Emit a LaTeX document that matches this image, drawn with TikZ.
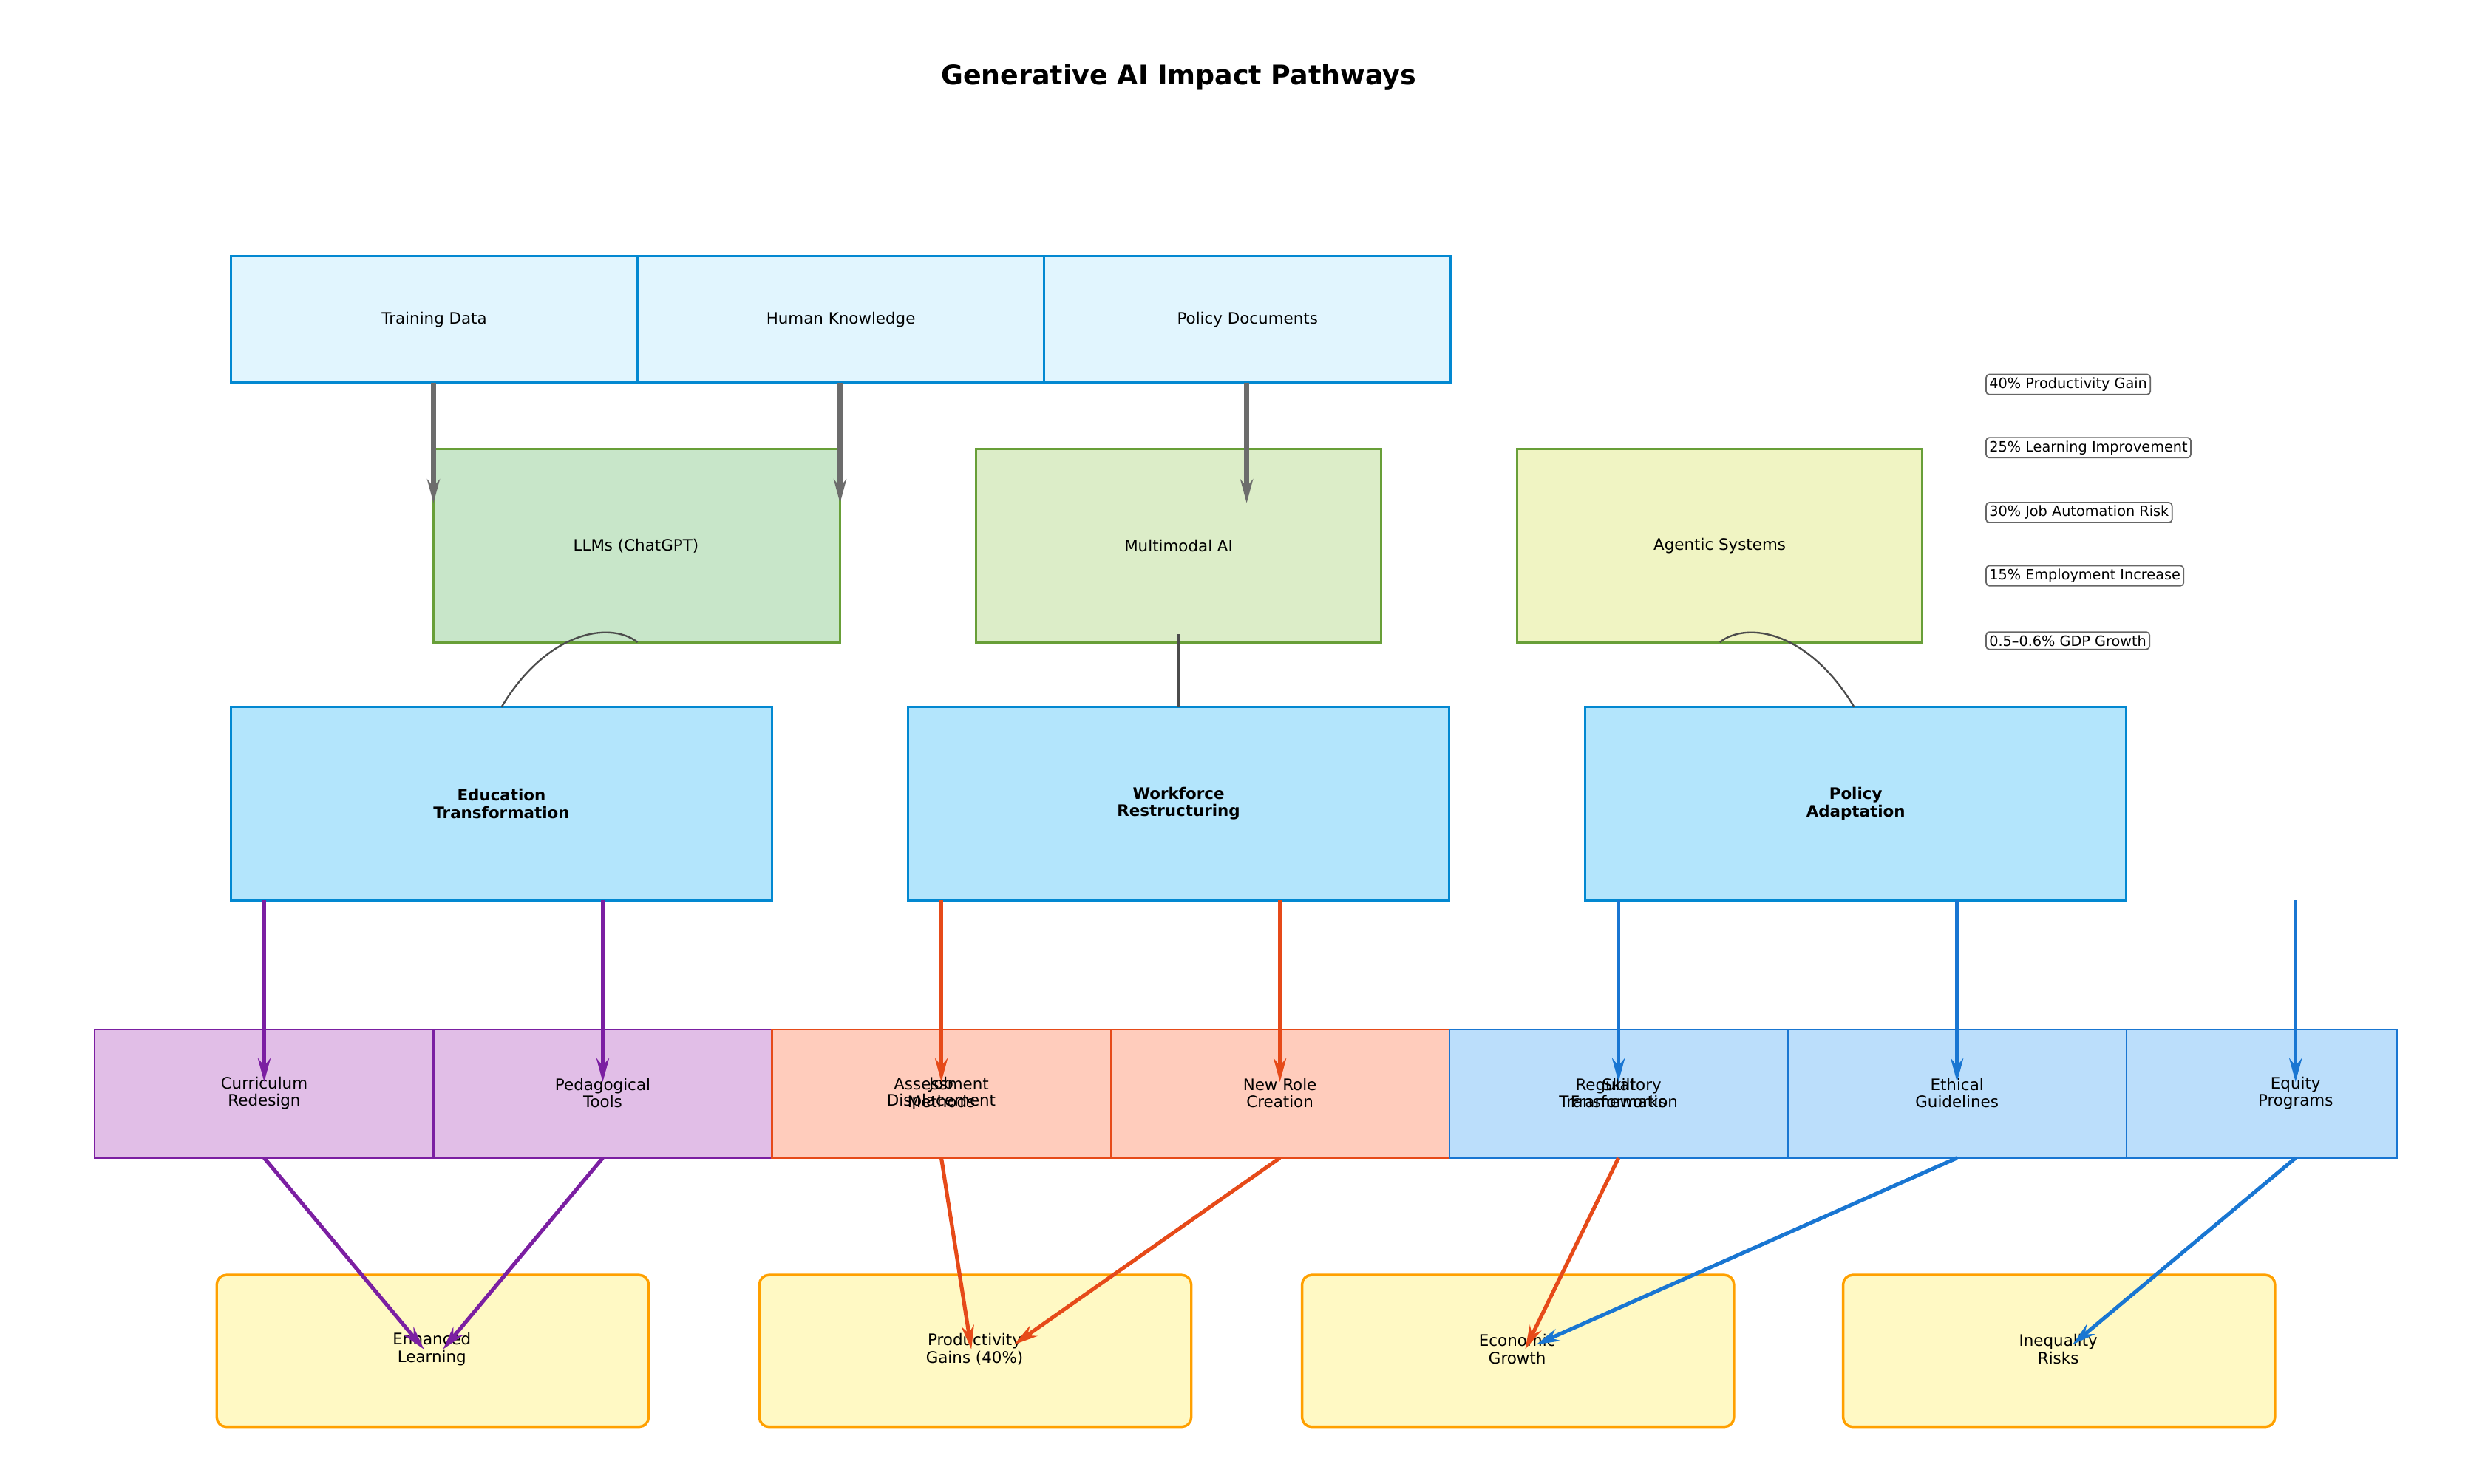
\documentclass[tikz,border=0pt]{standalone}
\usepackage{fontspec}
\setmainfont{DejaVu Sans}
\usetikzlibrary{arrows.meta}
\definecolor{inF}{HTML}{E1F5FE}\definecolor{bl}{HTML}{0288D1}
\definecolor{gr}{HTML}{689F38}
\definecolor{g1}{HTML}{C8E6C9}\definecolor{g2}{HTML}{DCEDC8}\definecolor{g3}{HTML}{F0F4C3}
\definecolor{midF}{HTML}{B3E5FC}
\definecolor{pu}{HTML}{7B1FA2}\definecolor{puF}{HTML}{E1BEE7}
\definecolor{or}{HTML}{E64A19}\definecolor{orF}{HTML}{FFCCBC}
\definecolor{bu}{HTML}{1976D2}\definecolor{buF}{HTML}{BBDEFB}
\definecolor{yF}{HTML}{FFF9C4}\definecolor{yB}{HTML}{FFA000}
\begin{document}
\begin{tikzpicture}[x=1pt,y=-1pt,
 arr/.style={line width=2.4pt,-{Stealth[length=15pt,width=8pt]}},
 lbl/.style={font=\fontsize{10}{11}\selectfont,align=center},
 stat/.style={draw=gray!80!black,line width=0.8pt,rounded corners=2pt,font=\fontsize{9}{10}\selectfont,inner sep=2pt,anchor=west}]
\useasboundingbox (0,0) rectangle (1560,938);
\node[font=\bfseries\fontsize{17}{19}\selectfont] (title) at (745,49) {Generative AI Impact Pathways};
% inputs
\foreach \n/\x/\t in {td/146/Training Data,hk/403/Human Knowledge,pd/660/Policy Documents}{
 \draw[fill=inF,draw=bl,line width=1.4pt] (\x,162) rectangle +(257,80);
 \node[lbl] (\n) at (\x+128.5,202) {\t};}
% models
\draw[fill=g1,draw=gr,line width=1.4pt] (274,284) rectangle (531,406); \node[lbl] (llm) at (402,345) {LLMs (ChatGPT)};
\draw[fill=g2,draw=gr,line width=1.4pt] (617,284) rectangle (873,406); \node[lbl] (mm) at (745,345) {Multimodal AI};
\draw[fill=g3,draw=gr,line width=1.4pt] (959,284) rectangle (1215,406); \node[lbl] (ag) at (1087,345) {Agentic Systems};
\coordinate (a1) at (274,242);\coordinate (a1e) at (274,318);
\coordinate (a2) at (531,242);\coordinate (a2e) at (531,318);
\coordinate (a3) at (788,242);\coordinate (a3e) at (788,318);
\foreach \s/\e in {a1/a1e,a2/a2e,a3/a3e}\draw[arr,draw=gray!85!black,line width=3.2pt] (\s)--(\e);
% mid
\foreach \n/\x/\t in {edu/146/Education\\Transformation,wf/574/Workforce\\Restructuring,pol/1002/Policy\\Adaptation}{
 \draw[fill=midF,draw=bl,line width=1.6pt] (\x,447) rectangle +(342,122);
 \node[lbl,font=\bfseries\fontsize{10}{11}\selectfont] (\n) at (\x+171,508) {\t};}
\coordinate (c1s) at (317,447);\coordinate (c1e) at (403,406);
\coordinate (c2s) at (745,447);\coordinate (c2e) at (745,401);
\coordinate (c3s) at (1172,447);\coordinate (c3e) at (1087,406);
\draw[gray!60!black,line width=1.1pt] (c1s) .. controls (345,400) and (385,392) .. (c1e);
\draw[gray!60!black,line width=1.1pt] (c2s) -- (c2e);
\draw[gray!60!black,line width=1.1pt] (c3s) .. controls (1144,400) and (1105,392) .. (c3e);
% bottom row
\foreach \x/\w/\f/\d in {60/214/puF/pu,274/214/puF/pu,488/214/orF/or,702/214/orF/or,916/214/buF/bu,1130/214/buF/bu,1344/171/buF/bu}
 \draw[fill=\f,draw=\d,line width=1pt] (\x,651) rectangle +(\w,81);
\node[lbl] (cr) at (167,691) {Curriculum\\Redesign};
\node[lbl] (pt) at (381,691) {Pedagogical\\Tools};
\node[lbl] (am) at (595,691) {Assessment\\Methods};
\node[lbl] (jd) at (595,691) {Job\\Displacement};
\node[lbl] (nr) at (809,691) {New Role\\Creation};
\node[lbl] (rf) at (1023,691) {Regulatory\\Frameworks};
\node[lbl] (st) at (1023,691) {Skill\\Transformation};
\node[lbl] (eg) at (1237,691) {Ethical\\Guidelines};
\node[lbl] (ep) at (1451,691) {Equity\\Programs};
\foreach \x/\c in {167/pu,381/pu,595/or,809/or,1023/bu,1237/bu,1451/bu}
 \draw[arr,draw=\c,fill=\c] (\x,569) -- (\x,684);
% outcomes
\foreach \n/\x/\t in {el/137/Enhanced\\Learning,pg/480/Productivity\\Gains (40\%),eco/823/Economic\\Growth,ir/1165/Inequality\\Risks}{
 \draw[fill=yF,draw=yB,line width=1.6pt,rounded corners=6pt] (\x,806) rectangle +(273,96);
 \node[lbl] (\n) at (\x+136,853) {\t};}
\draw[arr,draw=pu] (167,732) -- (268,853);
\draw[arr,draw=pu] (381,732) -- (280,853);
\draw[arr,draw=or] (595,732) -- (614,853);
\draw[arr,draw=or] (809,732) -- (641,850);
\draw[arr,draw=or] (1023,732) -- (964,853);
\draw[arr,draw=bu] (1237,732) -- (971,850);
\draw[arr,draw=bu] (1451,732) -- (1310,850);
% stats
\node[stat] (s1) at (1255,243) {40\% Productivity Gain};
\node[stat] (s2) at (1255,283) {25\% Learning Improvement};
\node[stat] (s3) at (1255,324) {30\% Job Automation Risk};
\node[stat] (s4) at (1255,364) {15\% Employment Increase};
\node[stat] (s5) at (1255,405) {0.5–0.6\% GDP Growth};
\end{tikzpicture}
\end{document}
